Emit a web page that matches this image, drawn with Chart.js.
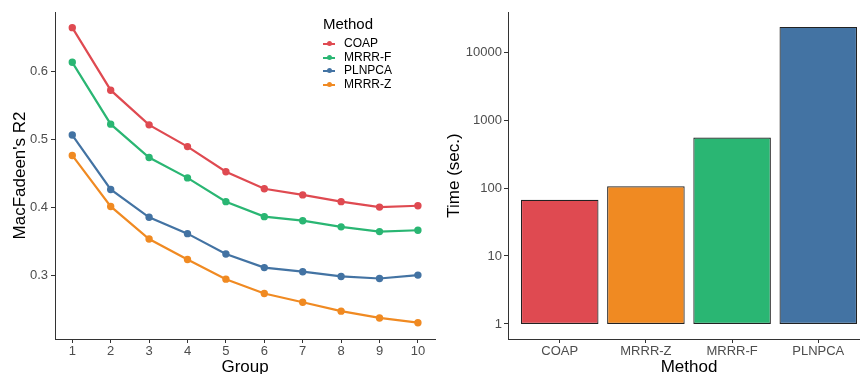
<!DOCTYPE html>
<html lang="en">
<head>
<meta charset="UTF-8">
<title>COAP comparison</title>
<script src="https://cdn.jsdelivr.net/npm/chart.js"></script>
<style>
    html, body { margin: 0; padding: 0; background: #fff; overflow: hidden; width: 860px; height: 374px; }
    .panel { position: absolute; top: 0; height: 374px; }
    #left { left: 0; width: 440px; }
    #right { left: 440px; width: 440px; }
    .legend { position: absolute; left: 323px; top: 15px; font-family: "Liberation Sans", Arial, sans-serif; color: #000; }
    .legend .title { font-size: 15px; margin-bottom: 5px; }
    .legend .item { font-size: 12px; height: 13.7px; line-height: 13.7px; display: flex; align-items: center; }
    .legend .sym { position: relative; width: 12px; height: 2px; margin-right: 9px; }
    .legend .sym i { position: absolute; left: 3.5px; top: -2px; width: 5px; height: 5px; border-radius: 50%; }
</style>
</head>
<body>
<div class="panel" id="left"><canvas id="r2Chart" width="440" height="374"></canvas></div>
<div class="panel" id="right"><canvas id="timeChart" width="440" height="374"></canvas></div>
<div class="legend" id="legend"></div>

<script>
    const FONT = '"Liberation Sans", Arial, sans-serif';

    // left panel: MacFadeen's R2 by group
    const groups = [1, 2, 3, 4, 5, 6, 7, 8, 9, 10];
    const methods = ['COAP', 'MRRR-F', 'PLNPCA', 'MRRR-Z'];
    const coapR2   = [0.665, 0.573, 0.522, 0.490, 0.453, 0.428, 0.419, 0.409, 0.401, 0.403];
    const mrrrFR2  = [0.614, 0.523, 0.474, 0.444, 0.409, 0.387, 0.381, 0.372, 0.365, 0.367];
    const plnpcaR2 = [0.507, 0.427, 0.386, 0.362, 0.332, 0.312, 0.306, 0.299, 0.296, 0.301];
    const mrrrZR2  = [0.477, 0.402, 0.354, 0.324, 0.295, 0.274, 0.261, 0.248, 0.238, 0.231];
    const r2Ticks = [0.3, 0.4, 0.5, 0.6];

    // right panel: run time (log scale)
    const timeMethods = ['COAP', 'MRRR-Z', 'MRRR-F', 'PLNPCA'];
    const timeSec = [67, 106, 555, 23500];
    const timeTicks = [1, 10, 100, 1000, 10000];

    const colors = { 'COAP': '#DF4A51', 'MRRR-F': '#2AB673', 'PLNPCA': '#4373A3', 'MRRR-Z': '#F08A22' };
    const r2Series = [coapR2, mrrrFR2, plnpcaR2, mrrrZR2];

    const axisColor = '#333';
    const tickFont = { family: FONT, size: 13 };
    const titleFont = { family: FONT, size: 17, lineHeight: 1 };
    const xTitleFont = { family: FONT, size: 17, lineHeight: 0.8 };

    new Chart(document.getElementById('r2Chart'), {
        type: 'line',
        data: {
            datasets: methods.map((m, i) => ({
                label: m,
                data: groups.map((g, j) => ({ x: g, y: r2Series[i][j] })),
                borderColor: colors[m],
                backgroundColor: colors[m],
                borderWidth: 2.2,
                pointRadius: 2.6,
                pointHoverRadius: 2.6,
                tension: 0
            }))
        },
        options: {
            responsive: false,
            animation: false,
            layout: { padding: { top: 12, right: 3, left: 0, bottom: 0 } },
            plugins: { legend: { display: false }, tooltip: { enabled: false } },
            scales: {
                x: {
                    type: 'linear', min: 0.55, max: 10.45,
                    afterBuildTicks: s => { s.ticks = groups.map(v => ({ value: v })); },
                    afterFit: s => { s.height = 35; },
                    grid: { drawOnChartArea: false, tickLength: 4, color: axisColor },
                    border: { color: axisColor, width: 1 },
                    ticks: { font: tickFont, color: '#4d4d4d', padding: 1, maxRotation: 0 },
                    title: { display: true, text: 'Group', font: xTitleFont, color: '#000', padding: { top: 0, bottom: 0 } }
                },
                y: {
                    min: 0.207, max: 0.688,
                    afterBuildTicks: s => { s.ticks = r2Ticks.map(v => ({ value: v })); },
                    afterFit: s => { s.width = 55; },
                    grid: { drawOnChartArea: false, tickLength: 4, color: axisColor },
                    border: { color: axisColor, width: 1 },
                    ticks: { font: tickFont, color: '#4d4d4d', padding: 3, callback: v => v.toFixed(1) },
                    title: { display: true, text: "MacFadeen's R2", font: titleFont, color: '#000', padding: { top: 12, bottom: 0 } }
                }
            }
        }
    });

    new Chart(document.getElementById('timeChart'), {
        type: 'bar',
        data: {
            datasets: [{
                label: 'Time (sec.)',
                data: timeMethods.map((m, i) => ({ x: i + 1, y: [1, timeSec[i]] })),
                backgroundColor: timeMethods.map(m => colors[m]),
                borderColor: '#222',
                borderWidth: 1.2,
                borderSkipped: false,
                categoryPercentage: 1,
                barPercentage: 0.9
            }]
        },
        options: {
            responsive: false,
            animation: false,
            layout: { padding: { top: 12, right: 10, left: 0, bottom: 0 } },
            plugins: { legend: { display: false }, tooltip: { enabled: false } },
            scales: {
                x: {
                    type: 'linear', min: 0.4, max: 4.6, offset: false,
                    afterBuildTicks: s => { s.ticks = timeMethods.map((m, i) => ({ value: i + 1 })); },
                    afterFit: s => { s.height = 35; },
                    grid: { drawOnChartArea: false, offset: false, tickLength: 4, color: axisColor },
                    border: { color: axisColor, width: 1 },
                    ticks: { font: tickFont, color: '#4d4d4d', padding: 1, maxRotation: 0,
                             callback: v => timeMethods[v - 1] },
                    title: { display: true, text: 'Method', font: xTitleFont, color: '#000', padding: { top: 0, bottom: 0 } }
                },
                y: {
                    type: 'logarithmic', min: 0.6045, max: 38930,
                    afterBuildTicks: s => { s.ticks = timeTicks.map(v => ({ value: v })); },
                    afterFit: s => { s.width = 68; },
                    grid: { drawOnChartArea: false, tickLength: 4, color: axisColor },
                    border: { color: axisColor, width: 1 },
                    ticks: { font: tickFont, color: '#4d4d4d', padding: 2, callback: v => String(v) },
                    title: { display: true, text: 'Time (sec.)', font: titleFont, color: '#000', padding: { top: 6, bottom: 0 } }
                }
            }
        }
    });

    // legend for the left panel
    const legend = document.getElementById('legend');
    legend.innerHTML = '<div class="title">Method</div>' + methods.map(m =>
        `<div class="item"><span class="sym" style="background:${colors[m]}"><i style="background:${colors[m]}"></i></span>${m}</div>`
    ).join('');
</script>
</body>
</html>
